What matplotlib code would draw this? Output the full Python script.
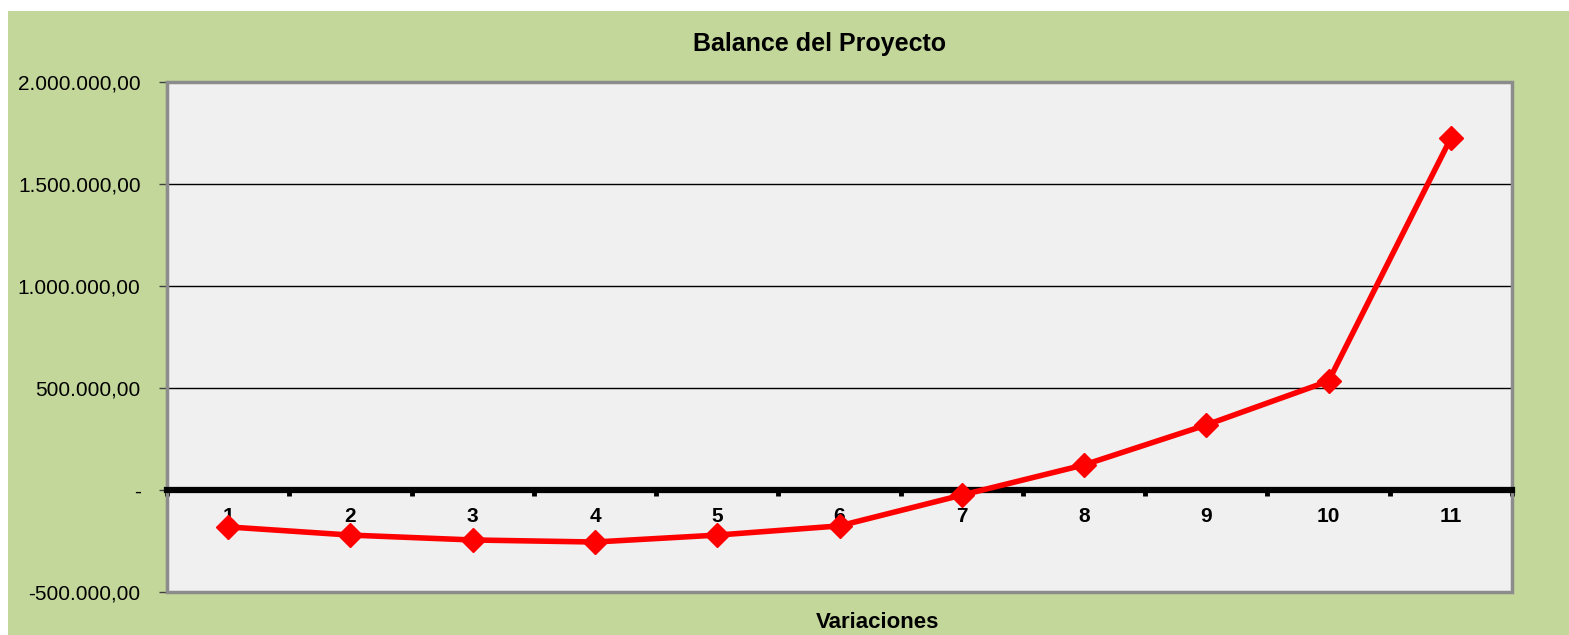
import numpy as np
import matplotlib.pyplot as plt
from matplotlib.patches import Rectangle
from matplotlib.ticker import FuncFormatter, FixedLocator

plt.rcParams['font.family'] = ['Liberation Sans', 'DejaVu Sans']

# ── Data ─────────────────────────────────────────────────────────────────────
variaciones = ['1', '2', '3', '4', '5', '6', '7', '8', '9', '10', '11']
balance = [-181000, -221000, -245000, -255000, -221000, -176000,
           -25000, 123000, 319000, 534000, 1725000]
y_ticks = [-500000, 0, 500000, 1000000, 1500000, 2000000]

GREEN = '#C4D79B'
PLOT_BG = '#F0F0F0'

def fmt_es(v, pos=None):
    if abs(v) < 1e-9:
        return '-'
    s = f"{v:,.2f}"
    return s.replace(',', 'X').replace('.', ',').replace('X', '.')

fig = plt.figure(figsize=(15.69, 6.35), dpi=100)
fig.patch.set_facecolor('white')
# green chart area (white margin top/left like the source)
fig.patches.append(Rectangle((8 / 1569, 0), 1 - 8 / 1569, 1 - 11 / 635,
                             transform=fig.transFigure, facecolor=GREEN,
                             edgecolor='none', zorder=-5))

ax = fig.add_axes([167 / 1569, 1 - 592 / 635, (1512 - 167) / 1569, (592 - 82) / 635])
ax.set_zorder(1)
ax.set_facecolor(PLOT_BG)

x = np.arange(1, len(variaciones) + 1)
ax.plot(x, balance, color='red', lw=4, marker='D', ms=12, zorder=5, clip_on=False)

ax.set_xlim(0.5, len(variaciones) + 0.5)
ax.set_ylim(-500000, 2000000)

# y axis
ax.yaxis.set_major_locator(FixedLocator(y_ticks))
ax.yaxis.set_major_formatter(FuncFormatter(fmt_es))
ax.tick_params(axis='y', direction='out', length=6, width=1, color='#404040',
               labelsize=15, pad=13)
ax.yaxis.grid(True, color='black', lw=1)
ax.set_axisbelow(True)

# x axis sits on zero, thick black
ax.spines['bottom'].set_position(('data', 0))
ax.spines['bottom'].set_linewidth(4.5)
ax.spines['bottom'].set_color('black')
ax.spines['bottom'].set_zorder(4)
for s in ['top', 'right']:
    ax.spines[s].set_color('#8C8C8C')
    ax.spines[s].set_linewidth(2)
ax.spines['left'].set_color('#606060')
ax.spines['left'].set_linewidth(1.5)
ax.add_patch(Rectangle((0, 0), 1, 1, transform=ax.transAxes, fill=False,
                       edgecolor='#8C8C8C', lw=2.5, clip_on=False, zorder=3))

ax.set_xticks(x)
ax.set_xticklabels(variaciones, fontweight='bold', fontsize=15)
ax.tick_params(axis='x', which='major', length=0, pad=12)
ax.set_xticks(np.arange(0.5, len(variaciones) + 1, 1.0), minor=True)
ax.tick_params(axis='x', which='minor', direction='out', length=4, width=3.5, color='black')

fig.text(820 / 1569, 1 - 44 / 635, 'Balance del Proyecto', ha='center', va='center',
         fontsize=18, fontweight='bold')
fig.text(878 / 1569, 1 - 623 / 635, 'Variaciones', ha='center', va='center',
         fontsize=16, fontweight='bold')

fig.savefig('out.png', dpi=100, facecolor=fig.get_facecolor())
